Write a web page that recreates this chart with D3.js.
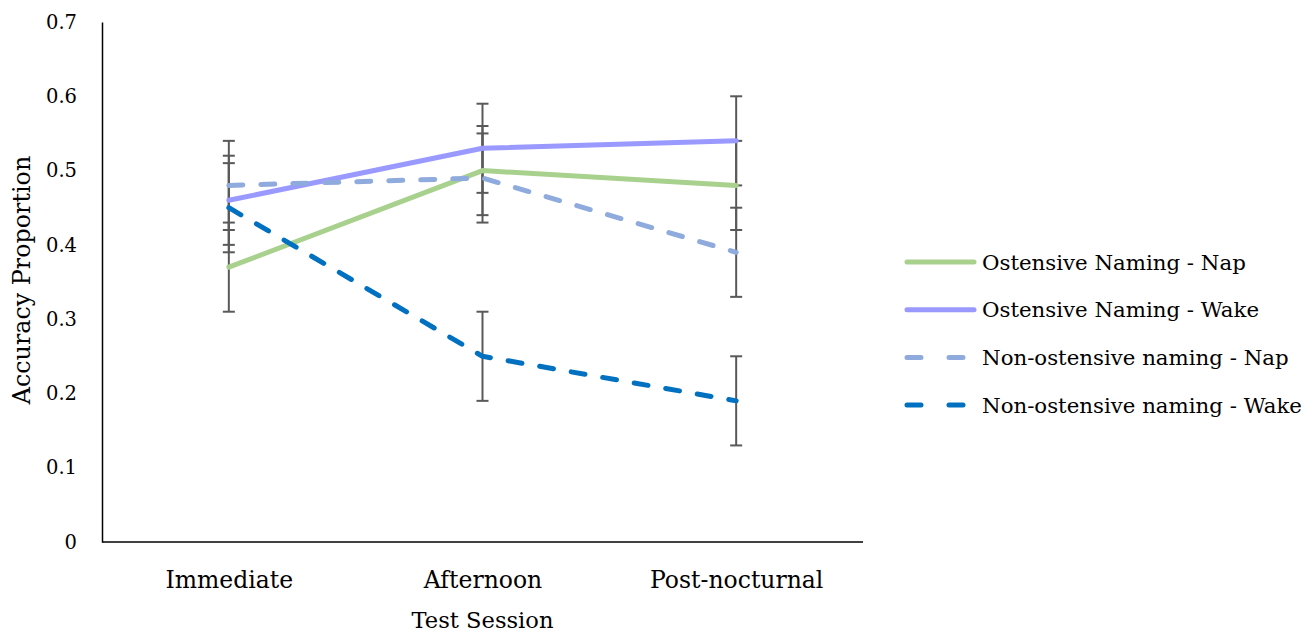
<!DOCTYPE html>
<html>
<head>
<meta charset="utf-8">
<script src="https://cdn.jsdelivr.net/npm/d3@7"></script>
<style>
  body { margin: 0; background: #fff; }
  svg text { font-family: "DejaVu Serif", serif; fill: #000; }
</style>
</head>
<body>
<div id="chart"></div>
<script>
const sessions = ['Immediate', 'Afternoon', 'Post-nocturnal'];
const seriesNames = ['Ostensive Naming - Nap', 'Ostensive Naming - Wake', 'Non-ostensive naming - Nap', 'Non-ostensive naming - Wake'];
const ostNap = [0.37, 0.50, 0.48];
const ostWake = [0.46, 0.53, 0.54];
const nonNap = [0.48, 0.49, 0.39];
const nonWake = [0.45, 0.25, 0.19];
const errOstNap = [0.06, 0.06, 0.06];
const errOstWake = [0.06, 0.06, 0.06];
const errNonNap = [0.06, 0.06, 0.06];
const errNonWake = [0.06, 0.06, 0.06];
const yTicks = [0, 0.1, 0.2, 0.3, 0.4, 0.5, 0.6, 0.7];

const series = [
  { name: seriesNames[0], values: ostNap, err: errOstNap, color: '#A9D18E', dashed: false },
  { name: seriesNames[1], values: ostWake, err: errOstWake, color: '#9999FF', dashed: false },
  { name: seriesNames[2], values: nonNap, err: errNonNap, color: '#8FAADC', dashed: true },
  { name: seriesNames[3], values: nonWake, err: errNonWake, color: '#0070C0', dashed: true }
];

const width = 1316, height = 636;
const svg = d3.select('#chart').append('svg')
  .attr('width', width)
  .attr('height', height);

const x = d3.scalePoint().domain(sessions).range([102, 863]).padding(0.5);
const y = d3.scaleLinear().domain([0, 0.7]).range([542, 22]);

// axes
const yAxis = svg.append('g').attr('transform', 'translate(102,0)')
  .call(d3.axisLeft(y).tickValues(yTicks).tickSize(0).tickPadding(25)
    .tickFormat(d => d === 0 ? '0' : d3.format('.1f')(d)));
yAxis.select('.domain').attr('stroke', '#000').attr('stroke-width', 1.5);
yAxis.selectAll('text').style('font-size', '19.5px').attr('font-family', null);

const xAxis = svg.append('g').attr('transform', 'translate(0,542)')
  .call(d3.axisBottom(x).tickSize(0).tickPadding(29));
xAxis.select('.domain').attr('d', 'M102,0H863').attr('stroke', '#000').attr('stroke-width', 1.5);
xAxis.selectAll('text').style('font-size', '23.5px').attr('font-family', null);

// axis titles
svg.append('text')
  .attr('x', x('Afternoon')).attr('y', 628)
  .attr('text-anchor', 'middle')
  .style('font-size', '22.6px')
  .text('Test Session');

svg.append('text')
  .attr('transform', 'translate(30,280) rotate(-90)')
  .attr('text-anchor', 'middle')
  .style('font-size', '23.8px')
  .text('Accuracy Proportion');

// error bars
series.forEach(s => {
  const g = svg.append('g');
  s.values.forEach((v, i) => {
    const cx = x(sessions[i]);
    const lo = y(v - s.err[i]), hi = y(v + s.err[i]);
    g.append('line').attr('x1', cx).attr('x2', cx).attr('y1', lo).attr('y2', hi)
      .attr('stroke', '#595959').attr('stroke-width', 2);
    [lo, hi].forEach(yy => g.append('line')
      .attr('x1', cx - 6).attr('x2', cx + 6).attr('y1', yy).attr('y2', yy)
      .attr('stroke', '#595959').attr('stroke-width', 2));
  });
});

// lines
const line = d3.line().x((d, i) => x(sessions[i])).y(d => y(d));
series.forEach(s => {
  svg.append('path')
    .datum(s.values)
    .attr('d', line)
    .attr('fill', 'none')
    .attr('stroke', s.color)
    .attr('stroke-width', 5)
    .attr('stroke-linecap', 'round')
    .attr('stroke-linejoin', 'round')
    .attr('stroke-dasharray', s.dashed ? '14,18' : null);
});

// legend
const legend = svg.append('g');
series.forEach((s, i) => {
  const ly = 262 + i * 47.7;
  legend.append('line')
    .attr('x1', 907).attr('x2', 974).attr('y1', ly).attr('y2', ly)
    .attr('stroke', s.color).attr('stroke-width', 5)
    .attr('stroke-linecap', 'round')
    .attr('stroke-dasharray', s.dashed ? '14,28' : null);
  legend.append('text')
    .attr('x', 982).attr('y', ly + 7.5)
    .style('font-size', '21.3px')
    .text(s.name);
});
</script>
</body>
</html>
